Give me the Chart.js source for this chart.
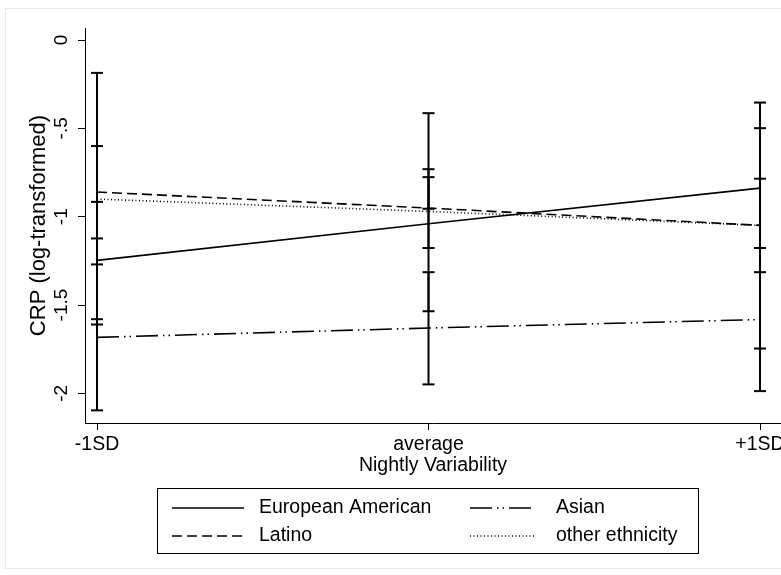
<!DOCTYPE html>
<html>
<head>
<meta charset="utf-8">
<script src="https://cdn.jsdelivr.net/npm/chart.js@4.4.1/dist/chart.umd.min.js"></script>
<style>
  html, body { margin: 0; padding: 0; background: #fff; }
  #wrap { position: relative; width: 781px; height: 575px; }
</style>
</head>
<body>
<div id="wrap"><canvas id="crpChart" width="781" height="575"></canvas></div>
<script>
// categories on the x axis
const xValues = [-1, 0, 1];
const xLabels = ['-1SD', 'average', '+1SD'];

// y ticks
const yTicks = [0, -0.5, -1, -1.5, -2];
const yTickLabels = ['0', '-.5', '-1', '-1.5', '-2'];

// predicted CRP per group
const european = [-1.247, -1.04, -0.838];
const latino = [-0.86, -0.951, -1.049];
const asian = [-1.683, -1.63, -1.582];
const other = [-0.90, -0.97, -1.049];

// confidence intervals (low / high)
const europeanLow = [-1.58, -1.177, -1.177];
const europeanHigh = [-0.916, -0.776, -0.499];
const latinoLow = [-1.123, -0.955, -1.314];
const latinoHigh = [-0.60, -0.731, -0.785];
const asianLow = [-2.096, -1.949, -1.987];
const asianHigh = [-1.27, -1.314, -1.177];
const otherLow = [-1.61, -1.535, -1.746];
const otherHigh = [-0.186, -0.414, -0.354];

const FONT = '"Liberation Sans", Arial, Helvetica, sans-serif';

function toPoints(vals) {
    return vals.map((v, i) => ({ x: xValues[i], y: v }));
}

// vertical bar of each interval, separated by gaps
function ciSegments(lows, highs) {
    const pts = [];
    lows.forEach((lo, i) => {
        pts.push({ x: xValues[i], y: lo });
        pts.push({ x: xValues[i], y: highs[i] });
        pts.push({ x: xValues[i], y: null });
    });
    return pts;
}

function ciCaps(lows, highs) {
    const pts = [];
    lows.forEach((lo, i) => {
        pts.push({ x: xValues[i], y: lo });
        pts.push({ x: xValues[i], y: highs[i] });
    });
    return pts;
}

const groups = [
    { label: 'European American', mean: european, low: europeanLow, high: europeanHigh, dash: [] },
    { label: 'Latino', mean: latino, low: latinoLow, high: latinoHigh, dash: [10, 5] },
    { label: 'Asian', mean: asian, low: asianLow, high: asianHigh, dash: [22, 5, 1.5, 4, 1.5, 5] },
    { label: 'other ethnicity', mean: other, low: otherLow, high: otherHigh, dash: [1, 2.5] }
];

const datasets = [];
groups.forEach(g => {
    datasets.push({
        type: 'line',
        label: g.label,
        data: toPoints(g.mean),
        borderColor: '#000',
        borderWidth: 1.6,
        borderDash: g.dash,
        pointRadius: 0,
        fill: false,
        tension: 0,
        isMean: true
    });
});
groups.forEach(g => {
    datasets.push({
        type: 'line',
        label: g.label + ' CI',
        data: ciSegments(g.low, g.high),
        borderColor: '#000',
        borderWidth: 2,
        pointRadius: 0,
        spanGaps: false,
        fill: false
    });
    datasets.push({
        type: 'scatter',
        label: g.label + ' caps',
        data: ciCaps(g.low, g.high),
        pointStyle: 'line',
        pointRadius: 6,
        pointBorderWidth: 2,
        borderColor: '#000',
        backgroundColor: '#000'
    });
});

// outer frame, rotated y tick labels and boxed legend
const stataPlugin = {
    id: 'stataLook',
    beforeDraw(chart) {
        const ctx = chart.ctx;
        ctx.save();
        ctx.fillStyle = '#fff';
        ctx.fillRect(0, 0, chart.width, chart.height);
        ctx.strokeStyle = '#e8e8e8';
        ctx.lineWidth = 1;
        ctx.strokeRect(5.5, 8.5, 800, 560);
        ctx.restore();
    },
    afterDraw(chart) {
        const ctx = chart.ctx;
        const yScale = chart.scales.y;
        ctx.save();
        ctx.fillStyle = '#000';
        ctx.font = '19px ' + FONT;
        ctx.textAlign = 'center';
        ctx.textBaseline = 'middle';
        yTicks.forEach((v, i) => {
            const py = yScale.getPixelForValue(v);
            ctx.save();
            ctx.translate(62, py);
            ctx.rotate(-Math.PI / 2);
            ctx.fillText(yTickLabels[i], 0, 0);
            ctx.restore();
        });

        // legend
        ctx.strokeStyle = '#000';
        ctx.lineWidth = 1;
        ctx.strokeRect(157.5, 488.5, 541, 65);
        const slots = [
            { x0: 172, x1: 244, tx: 259, y: 508 },
            { x0: 172, x1: 244, tx: 259, y: 536 },
            { x0: 470, x1: 534, tx: 556, y: 508 },
            { x0: 470, x1: 534, tx: 556, y: 536 }
        ];
        ctx.font = '19.5px ' + FONT;
        ctx.textAlign = 'left';
        chart.data.datasets.filter(d => d.isMean).forEach((d, i) => {
            const s = slots[i];
            ctx.setLineDash(d.borderDash);
            ctx.lineWidth = 1.3;
            ctx.beginPath();
            ctx.moveTo(s.x0, s.y);
            ctx.lineTo(s.x1, s.y);
            ctx.stroke();
            ctx.setLineDash([]);
            ctx.fillText(d.label, s.tx, s.y);
        });
        ctx.restore();
    }
};

function xLabel(v) {
    const i = xValues.indexOf(v);
    return i >= 0 ? xLabels[i] : '';
}

new Chart(document.getElementById('crpChart'), {
    type: 'line',
    data: { datasets: datasets },
    plugins: [stataPlugin],
    options: {
        responsive: false,
        animation: false,
        devicePixelRatio: 1,
        layout: { autoPadding: false, padding: { left: 0, right: 0, top: 28, bottom: 98 } },
        plugins: {
            legend: { display: false },
            tooltip: { enabled: false }
        },
        scales: {
            x: {
                type: 'linear',
                min: -1.0362,
                max: 1.0633,
                afterFit(s) { s.height = 54; s.paddingLeft = 0; s.paddingRight = 0; },
                ticks: {
                    stepSize: 1,
                    includeBounds: false,
                    autoSkip: false,
                    maxRotation: 0,
                    padding: 3,
                    color: '#000',
                    font: { family: FONT, size: 19.5 },
                    callback: v => xLabel(v)
                },
                grid: { drawOnChartArea: false, drawTicks: true, tickLength: 7, color: '#000' },
                border: { color: '#000', width: 1 },
                title: {
                    display: true,
                    text: 'Nightly Variability',
                    color: '#000',
                    font: { family: FONT, size: 19.5 },
                    padding: { top: 0, bottom: 0 }
                }
            },
            y: {
                min: -2.1675,
                max: 0.068,
                afterFit(s) { s.width = 85; s.paddingTop = 0; s.paddingBottom = 0; },
                ticks: {
                    stepSize: 0.5,
                    includeBounds: false,
                    color: 'rgba(0,0,0,0)',
                    font: { family: FONT, size: 19 }
                },
                grid: { drawOnChartArea: false, drawTicks: true, tickLength: 7, color: '#000' },
                border: { color: '#000', width: 1 },
                title: {
                    display: true,
                    text: 'CRP (log-transformed)',
                    color: '#000',
                    font: { family: FONT, size: 22 },
                    padding: { top: 26, bottom: 0 }
                }
            }
        }
    }
});
</script>
</body>
</html>
